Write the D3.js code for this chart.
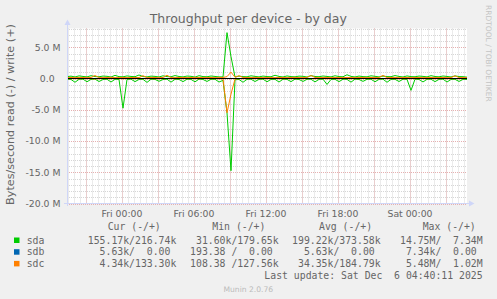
<!DOCTYPE html>
<html>
<head>
<meta charset="utf-8">
<script src="https://cdn.jsdelivr.net/npm/d3@7"></script>
<style>
body { margin: 0; background: #f0f0f0; }
svg { display: block; }
</style>
</head>
<body>
<div id="chart"></div>
<script>
// values in kB/s, one sample every 20 minutes
var sdaRead = [120,150,600,130,110,520,140,100,480,160,
  120,560,130,150,4750,140,110,500,150,130,
  620,120,140,450,160,110,580,130,150,500,
  120,140,530,110,150,470,130,120,560,300,
  5500,14750,200,150,600,130,120,480,140,110,
  520,150,130,560,120,140,500,110,150,470,
  130,120,540,140,110,950,150,130,500,120,
  140,580,110,150,460,130,120,520,140,110,
  600,150,130,480,120,140,1900,110,150,550,
  130,120,500,140,110,560,150,130,470,140,155];
var sdaWrite = [300,380,250,420,330,260,450,310,280,390,
  350,240,500,300,270,410,330,290,560,310,
  260,380,340,250,430,300,280,470,320,260,
  390,350,230,450,310,280,400,330,260,250,
  7340,3500,250,380,300,270,430,340,260,390,
  310,280,520,330,250,410,300,270,380,350,
  240,460,320,290,400,330,260,440,310,280,
  600,340,250,390,300,270,430,350,260,380,
  310,290,470,330,250,410,300,280,390,340,
  260,450,320,270,400,330,250,420,310,290,217];
var sdbRead = [5,6,4,7,5,6,5,4,6,5,
  7,5,6,4,5,6,5,7,5,6,
  4,5,6,5,7,5,6,4,5,6,
  5,7,5,6,4,5,6,5,7,5,
  6,4,5,6,5,7,5,6,4,5,
  6,5,7,5,6,4,5,6,5,7,
  5,6,4,5,6,5,7,5,6,4,
  5,6,5,7,5,6,4,5,6,5,
  7,5,6,4,5,6,5,7,5,6,
  4,5,6,5,7,5,6,4,5,6,5.6];
var sdbWrite = [0,0,0,0,0,0,0,0,0,0,
  0,0,0,0,0,0,0,0,0,0,
  0,0,0,0,0,0,0,0,0,0,
  0,0,0,0,0,0,0,0,0,0,
  0,0,0,0,0,0,0,0,0,0,
  0,0,0,0,0,0,0,0,0,0,
  0,0,0,0,0,0,0,0,0,0,
  0,0,0,0,0,0,0,0,0,0,
  0,0,0,0,0,0,0,0,0,0,
  0,0,0,0,0,0,0,0,0,0,0];
var sdcRead = [20,30,15,40,25,10,35,60,20,15,
  25,30,10,20,45,15,30,25,20,35,
  15,25,40,20,30,10,25,35,20,15,
  30,25,20,40,15,25,30,20,35,60,
  5480,2500,80,40,25,20,30,15,25,35,
  20,30,15,25,40,20,30,25,15,35,
  20,25,30,15,20,35,25,20,30,15,
  25,40,20,30,15,25,20,35,30,20,
  15,25,30,20,35,25,15,30,20,25,
  40,20,30,15,25,20,35,25,20,30,4];
var sdcWrite = [150,160,140,170,155,145,165,480,150,140,
  160,175,145,150,165,140,155,160,150,450,
  145,170,155,140,160,520,150,145,165,155,
  140,160,150,170,145,155,160,140,150,165,
  300,1020,200,450,150,160,145,170,155,140,
  160,150,145,165,155,140,160,170,150,145,
  155,480,160,140,150,165,145,155,160,140,
  170,150,145,160,155,140,165,150,160,500,
  145,155,170,140,150,160,145,155,165,140,
  150,160,145,155,170,140,160,420,150,145,133];

var devices = ['sda', 'sdb', 'sdc'];
var colors = ['#00cc00', '#0066b3', '#ff8000'];
var headers = ['Cur (-/+)', 'Min (-/+)', 'Avg (-/+)', 'Max (-/+)'];
var curText = ['155.17k/216.74k', '  5.63k/  0.00 ', '  4.34k/133.30k'];
var minText = ['31.60k/179.65k', '193.38 /  0.00 ', '108.38 /127.56k'];
var avgText = ['199.22k/373.58k', '5.63k/  0.00 ', '34.35k/184.79k'];
var maxText = ['14.75M/  7.34M', '7.34k/  0.00 ', '5.48M/  1.02M'];
var yTickValues = [-20, -15, -10, -5, 0, 5];

var start = new Date(2025, 11, 4, 19, 27, 30);
var end = new Date(2025, 11, 6, 4, 47, 30);
var times = sdaRead.map(function(d, i) { return d3.timeMinute.offset(start, i * 20); });

var svg = d3.select('#chart').append('svg')
  .attr('width', 497)
  .attr('height', 299);

svg.append('rect').attr('width', 497).attr('height', 299).attr('fill', '#f0f0f0');

var x = d3.scaleTime().domain([start, end]).range([67, 467]);
var y = d3.scaleLinear().domain([-20e6, 8e6]).range([203.5, 28.5]);

svg.append('rect')
  .attr('x', 67).attr('y', 28.5)
  .attr('width', 400).attr('height', 175)
  .attr('fill', '#ffffff');

// grid
var minorColor = '#d6d6d6', majorColor = '#e6b0b0';
var grid = svg.append('g');
grid.selectAll('.hmin').data(y.ticks(28)).enter().append('line')
  .attr('x1', 67).attr('x2', 467)
  .attr('y1', function(d) { return Math.round(y(d)) + 0.5; })
  .attr('y2', function(d) { return Math.round(y(d)) + 0.5; })
  .attr('stroke', minorColor).attr('stroke-dasharray', '1,1');
grid.selectAll('.vmin').data(d3.timeMinute.every(30).range(start, end)).enter().append('line')
  .attr('x1', function(d) { return Math.round(x(d)) + 0.5; })
  .attr('x2', function(d) { return Math.round(x(d)) + 0.5; })
  .attr('y1', 28.5).attr('y2', 203.5)
  .attr('stroke', minorColor).attr('stroke-dasharray', '1,1');
grid.selectAll('.hmaj').data(y.ticks(6)).enter().append('line')
  .attr('x1', 67).attr('x2', 467)
  .attr('y1', function(d) { return Math.round(y(d)) + 0.5; })
  .attr('y2', function(d) { return Math.round(y(d)) + 0.5; })
  .attr('stroke', majorColor).attr('stroke-dasharray', '1,1');
grid.selectAll('.vmaj').data(d3.timeHour.every(3).range(start, end)).enter().append('line')
  .attr('x1', function(d) { return Math.round(x(d)) + 0.5; })
  .attr('x2', function(d) { return Math.round(x(d)) + 0.5; })
  .attr('y1', 28.5).attr('y2', 203.5)
  .attr('stroke', majorColor).attr('stroke-dasharray', '1,1');

// data lines, read drawn negative
var series = [
  [sdaRead, -1, 0], [sdaWrite, 1, 0],
  [sdbRead, -1, 1], [sdbWrite, 1, 1],
  [sdcRead, -1, 2], [sdcWrite, 1, 2]
];
series.forEach(function(s) {
  var line = d3.line()
    .x(function(d, i) { return x(times[i]); })
    .y(function(d) { return y(s[1] * d * 1000); });
  svg.append('path')
    .datum(s[0])
    .attr('d', line)
    .attr('fill', 'none')
    .attr('stroke', colors[s[2]])
    .attr('stroke-width', 1);
});

svg.append('line')
  .attr('x1', 67).attr('x2', 467)
  .attr('y1', y(0)).attr('y2', y(0))
  .attr('stroke', '#000000').attr('stroke-width', 1);

// axes
var axisColor = '#cfd6f8';
svg.append('line').attr('x1', 67.5).attr('x2', 67.5).attr('y1', 206).attr('y2', 24)
  .attr('stroke', axisColor);
svg.append('path').attr('d', 'M64.5,25 L67.5,19.5 L70.5,25 Z').attr('fill', axisColor);
svg.append('line').attr('x1', 64).attr('x2', 470).attr('y1', 203.5).attr('y2', 203.5)
  .attr('stroke', axisColor);
svg.append('path').attr('d', 'M469,200.5 L474.5,203.5 L469,206.5 Z').attr('fill', axisColor);

var font = 'DejaVu Sans, sans-serif';
var mono = 'DejaVu Sans Mono, monospace';
var textColor = '#666666';

svg.selectAll('.ylab').data(yTickValues).enter().append('text')
  .attr('x', 60.5)
  .attr('y', function(d) { return y(d * 1e6) + 3.4; })
  .attr('text-anchor', 'end')
  .attr('xml:space', 'preserve')
  .style('white-space', 'pre')
  .attr('font-family', font).attr('font-size', 9.3).attr('fill', textColor)
  .text(function(d) { return d === 0 ? '0.0  ' : d.toFixed(1) + ' M'; });

var fmt = d3.timeFormat('%a %H:%M');
svg.selectAll('.xlab').data(d3.timeHour.every(6).range(start, end)).enter().append('text')
  .attr('x', function(d) { return x(d) + 0.5; })
  .attr('y', 216.5)
  .attr('text-anchor', 'middle')
  .attr('font-family', font).attr('font-size', 9.3).attr('fill', textColor)
  .text(function(d) { return fmt(d); });

svg.append('text')
  .attr('x', 248.3).attr('y', 23.3)
  .attr('text-anchor', 'middle')
  .attr('font-family', font).attr('font-size', 12.5).attr('fill', textColor)
  .text('Throughput per device - by day');

svg.append('text')
  .attr('transform', 'translate(14.2,114.5) rotate(-90)')
  .attr('text-anchor', 'middle')
  .attr('font-family', font).attr('font-size', 11.2).attr('fill', textColor)
  .text('Bytes/second read (-) / write (+)');

svg.append('text')
  .attr('transform', 'translate(485.8,5) rotate(90)')
  .attr('font-family', font).attr('font-size', 7.5).attr('fill', '#c4c4c4')
  .text('RRDTOOL / TOBI OETIKER');

// legend
var headX = [107.7, 212.3, 319, 422.7];
svg.selectAll('.head').data(headers).enter().append('text')
  .attr('x', function(d, i) { return headX[i]; })
  .attr('y', 230.3)
  .attr('font-family', mono).attr('font-size', 9.8).attr('fill', textColor)
  .text(function(d) { return d; });

var rowY = [243.5, 255.2, 266.9];
var colEnd = [176.3, 278.6, 380.6, 482.6];
var cols = [curText, minText, avgText, maxText];
devices.forEach(function(name, k) {
  svg.append('rect')
    .attr('x', 14).attr('y', rowY[k] - 6)
    .attr('width', 5.5).attr('height', 5.5)
    .attr('fill', colors[k]);
  svg.append('text')
    .attr('x', 26.7).attr('y', rowY[k])
    .attr('font-family', mono).attr('font-size', 9.8).attr('fill', textColor)
    .text(name);
  cols.forEach(function(col, c) {
    svg.append('text')
      .attr('x', colEnd[c]).attr('y', rowY[k])
      .attr('text-anchor', 'end')
      .attr('xml:space', 'preserve')
      .style('white-space', 'pre')
      .attr('font-family', mono).attr('font-size', 9.8).attr('fill', textColor)
      .text(col[k]);
  });
});

svg.append('text')
  .attr('x', 482.6).attr('y', 279.3)
  .attr('text-anchor', 'end')
  .attr('xml:space', 'preserve')
  .style('white-space', 'pre')
  .attr('font-family', mono).attr('font-size', 9.8).attr('fill', textColor)
  .text('Last update: Sat Dec  6 04:40:11 2025');

svg.append('text')
  .attr('x', 248.3).attr('y', 291.5)
  .attr('text-anchor', 'middle')
  .attr('font-family', font).attr('font-size', 7.6).attr('fill', '#bbbbbb')
  .text('Munin 2.0.76');
</script>
</body>
</html>
